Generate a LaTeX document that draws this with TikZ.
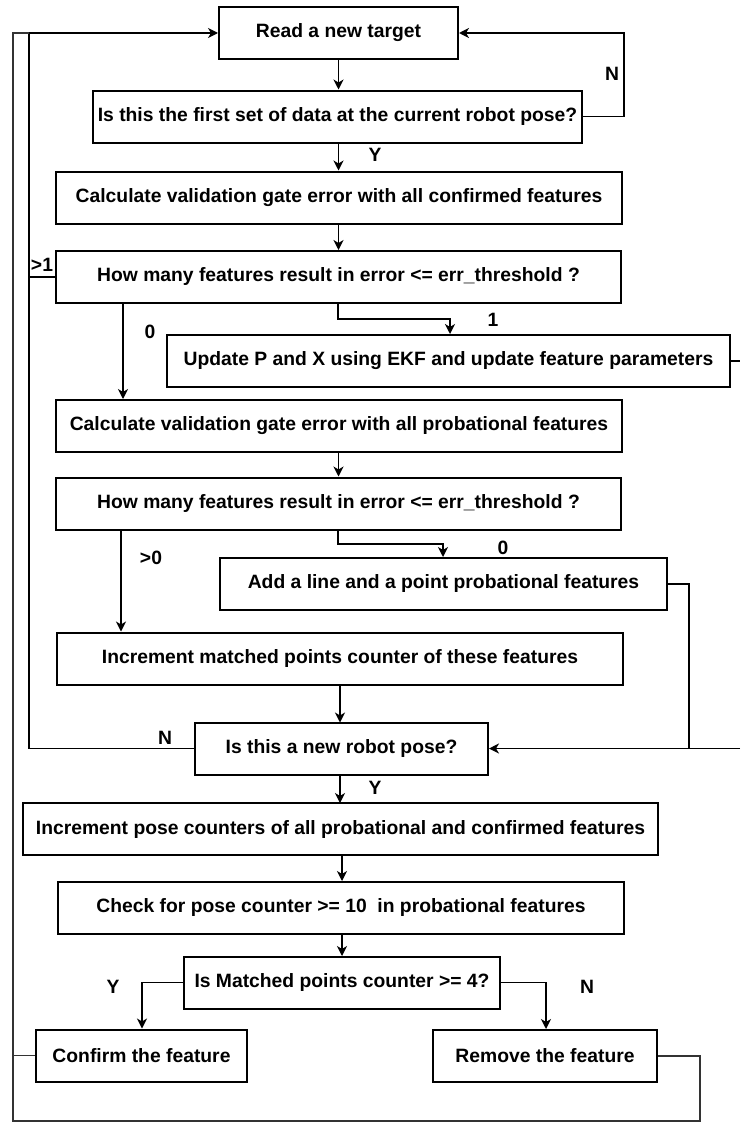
\documentclass[tikz,border=0pt]{standalone}
\usepackage{fontspec}
\setmainfont{Liberation Sans}
\usetikzlibrary{arrows.meta}
\begin{document}
\begin{tikzpicture}[x=1pt,y=-1pt,
  box/.style={draw,line width=2pt,minimum height=52pt,inner sep=0pt,
    font=\fontsize{19.3}{22}\selectfont\bfseries},
  lab/.style={inner sep=0pt,font=\fontsize{19.3}{22}\selectfont\bfseries},
  con/.style={line width=1.5pt},
  arr/.style={con,-{Stealth[length=10pt,width=10pt,inset=3pt]}},
  outer/.style={line width=1.2pt,black!80}]
\useasboundingbox (0,0) rectangle (740,1124);
\fill[white] (0,0) rectangle (740,1124);
% boxes
\node[box,minimum width=239pt] (rt) at (338.5,33) {Read a new target};
\node[box,minimum width=489pt] (first) at (337.5,116.5) {Is this the first set of data at the current robot pose?};
\node[box,minimum width=566pt] (calc1) at (339,197.5) {Calculate validation gate error with all confirmed features};
\node[box,minimum width=565pt] (how1) at (338.5,277) {How many features result in error <= err\_threshold ?};
\node[box,minimum width=563pt] (upd) at (448.5,361) {Update P and X using EKF and update feature parameters};
\node[box,minimum width=566pt] (calc2) at (339,426) {Calculate validation gate error with all probational features};
\node[box,minimum width=565pt] (how2) at (338.5,503.5) {How many features result in error <= err\_threshold ?};
\node[box,minimum width=447pt] (add) at (443.5,584) {Add a line and a point probational features};
\node[box,minimum width=566pt] (inc) at (340,658.5) {Increment matched points counter of these features};
\node[box,minimum width=293pt] (pose) at (341.5,748.5) {Is this a new robot pose?};
\node[box,minimum width=635pt] (incp) at (340.5,829) {Increment pose counters of all probational and confirmed features};
\node[box,minimum width=566pt] (check) at (341,907.5) {Check for pose counter >= 10\ \ in probational features};
\node[box,minimum width=316pt] (match) at (342,982.5) {Is Matched points counter >= 4?};
\node[box,minimum width=211pt] (conf) at (141.5,1055.5) {Confirm the feature};
\node[box,minimum width=224pt] (rem) at (545,1056) {Remove the feature};
% labels
\node[lab] (lN1) at (612,74) {N};
\node[lab] (lY1) at (375,155) {Y};
\node[lab] (lgt1) at (42,265) {>1};
\node[lab] (l1) at (493,320) {1};
\node[lab] (l0a) at (150,332) {0};
\node[lab] (l0b) at (503,548) {0};
\node[lab] (lgt0) at (151,558) {>0};
\node[lab] (lN2) at (165,738) {N};
\node[lab] (lY2) at (375,788) {Y};
\node[lab] (lY3) at (113,987) {Y};
\node[lab] (lN3) at (587,987) {N};
% coordinates
\coordinate (nR) at (624,116.5);
\coordinate (nRt) at (624,33);
\coordinate (gL) at (29,277);
\coordinate (gLt) at (29,33);
\coordinate (h1a) at (338,303);
\coordinate (h1b) at (338,319);
\coordinate (h1c) at (450,319);
\coordinate (h1d) at (123,303);
\coordinate (h2a) at (338,529.5);
\coordinate (h2b) at (338,544);
\coordinate (h2c) at (443,544);
\coordinate (h2d) at (121,529.5);
\coordinate (updR) at (740,361);
\coordinate (addR) at (689,584);
\coordinate (addRb) at (689,748.5);
\coordinate (edgeR) at (740,748.5);
\coordinate (pL) at (29,748.5);
\coordinate (mL) at (142,982.5);
\coordinate (mR) at (546,982.5);
\coordinate (cL) at (13,1055.5);
\coordinate (rR) at (700,1056);
\coordinate (rB) at (700,1121);
\coordinate (oB) at (13,1121);
\coordinate (oT) at (13,33);
% connectors
\draw[arr] (rt.south) -- (rt.south |- first.north);
\draw[arr] (rt.south |- first.south) -- (rt.south |- calc1.north);
\draw[arr] (first.east) -- (nR) -- (nRt) -- (rt.east);
\draw[arr] (rt.south |- calc1.south) -- (rt.south |- how1.north);
\draw[arr] (how1.west) -- (gL) -- (gLt) -- (rt.west);
\draw[arr] (h1a) -- (h1b) -- (h1c) -- (h1c |- upd.north);
\draw[arr] (h1d) -- (h1d |- calc2.north);
\draw[con] (upd.east) -- (updR);
\draw[arr] (rt.south |- calc2.south) -- (rt.south |- how2.north);
\draw[arr] (h2a) -- (h2b) -- (h2c) -- (h2c |- add.north);
\draw[arr] (h2d) -- (h2d |- inc.north);
\draw[arr] (340,685) -- (340,722.5);
\draw[con] (pose.west) -- (pL) -- (gL);
\draw[con] (add.east) -- (addR) -- (addRb);
\draw[arr] (edgeR) -- (pose.east);
\draw[arr] (340,774.5) -- (340,803);
\draw[arr] (342,855) -- (342,881);
\draw[arr] (342,934) -- (342,956);
\draw[arr] (match.west) -- (mL) -- (mL |- conf.north);
\draw[arr] (match.east) -- (mR) -- (mR |- rem.north);
\draw[outer] (conf.west) -- (cL);
\draw[outer] (rem.east) -- (rR) -- (rB) -- (oB) -- (oT) -- (gLt);
\end{tikzpicture}
\end{document}
